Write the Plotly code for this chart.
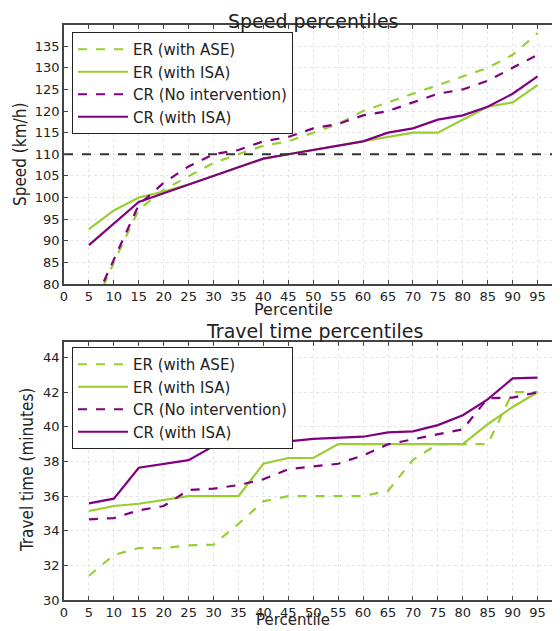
import plotly.graph_objects as go

percentiles = list(range(5, 100, 5))

speed_er_ase = [72, 85, 97.2, 101.8, 104.9, 108, 110, 112, 113, 115, 117, 120, 122, 124, 126, 128, 130, 133, 138]
speed_er_isa = [92.7, 97, 100, 101.4, 103, 105, 107, 109, 110, 111, 112, 113, 114, 115, 115, 118, 121, 122, 126]
speed_cr_none = [73, 85.6, 98.3, 103.4, 107.2, 110, 111, 113, 114, 116, 117, 119, 120, 122, 124, 125, 127, 130, 133]
speed_cr_isa = [89, 94, 99, 101, 103, 105, 107, 109, 110, 111, 112, 113, 115, 116, 118, 119, 121, 124, 128]

tt_er_ase = [31.4, 32.6, 33.0, 33.0, 33.15, 33.2, 34.4, 35.7, 36.0, 36.0, 36.0, 36.0, 36.3, 38.1, 39.0, 39.0, 39.0, 42.0, 42.0]
tt_er_isa = [35.14, 35.43, 35.56, 35.8, 36.0, 36.0, 36.0, 37.87, 38.2, 38.2, 39.0, 39.0, 39.0, 39.0, 39.0, 39.0, 40.15, 41.15, 42.0]
tt_cr_none = [34.66, 34.73, 35.18, 35.43, 36.35, 36.43, 36.64, 36.97, 37.55, 37.7, 37.87, 38.35, 38.99, 39.28, 39.57, 39.86, 41.65, 41.69, 42.0]
tt_cr_isa = [35.58, 35.85, 37.64, 37.87, 38.08, 38.89, 39.07, 39.09, 39.16, 39.3, 39.36, 39.43, 39.68, 39.74, 40.1, 40.67, 41.59, 42.8, 42.84]

speed_limit = 110
series_names = ["ER (with ASE)", "ER (with ISA)", "CR (No intervention)", "CR (with ISA)"]
x_ticks = list(range(0, 100, 5))
speed_ticks = list(range(80, 140, 5))
tt_ticks = list(range(30, 46, 2))

GREEN = "#9ACD32"
PURPLE = "#800080"
styles = [(GREEN, "dash"), (GREEN, "solid"), (PURPLE, "dash"), (PURPLE, "solid")]
FONT = "DejaVu Sans"
NARROW = "DejaVu Sans Condensed, DejaVu Sans"

# page has an 8px body margin; figure coords = reference px - 8
W, H = 552, 623
L = 56
PW = W - L

def px(x):
    return (x - 8 - L) / PW

def py(y):
    return 1 - (y - 8) / H

def yd(top, bottom):
    return [py(bottom), py(top)]

fig = go.Figure()

for i, (vals, (c, d)) in enumerate(zip([speed_er_ase, speed_er_isa, speed_cr_none, speed_cr_isa], styles)):
    fig.add_trace(go.Scatter(x=percentiles, y=vals, mode="lines", name=series_names[i],
                             line=dict(color=c, dash=d, width=2.2), xaxis="x", yaxis="y",
                             legend="legend"))
fig.add_trace(go.Scatter(x=[0, 100], y=[speed_limit, speed_limit], mode="lines",
                         line=dict(color="#333333", dash="dash", width=2), showlegend=False,
                         xaxis="x", yaxis="y"))
for i, (vals, (c, d)) in enumerate(zip([tt_er_ase, tt_er_isa, tt_cr_none, tt_cr_isa], styles)):
    fig.add_trace(go.Scatter(x=percentiles, y=vals, mode="lines", name=series_names[i],
                             line=dict(color=c, dash=d, width=2.2), xaxis="x2", yaxis="y2",
                             legend="legend2"))

axis_common = dict(showline=True, linecolor="#444444", linewidth=1.5, mirror="ticks",
                   ticks="inside", ticklen=4, tickcolor="#444444", automargin=False,
                   showgrid=True, gridcolor="#e4e4e4", griddash="dot", gridwidth=1,
                   zeroline=False, tickfont=dict(family=FONT, size=13, color="#222"))

legend_common = dict(xref="paper", yref="paper", xanchor="left", yanchor="top",
                     bgcolor="white", bordercolor="#222", borderwidth=1,
                     font=dict(family=FONT, size=15, color="#222"), tracegroupgap=0,
                     itemwidth=50)

fig.update_layout(
    template="none",
    width=W, height=H,
    margin=dict(l=L, r=0, t=0, b=0),
    plot_bgcolor="white", paper_bgcolor="white",
    font=dict(family=FONT, color="#222"),
    xaxis=dict(domain=[0, 1], range=[0, 99.5], tickvals=x_ticks, anchor="y", **axis_common),
    yaxis=dict(domain=yd(25, 284), range=[80, 139.9], tickvals=speed_ticks, anchor="x", **axis_common),
    xaxis2=dict(domain=[0, 1], range=[0, 99.5], tickvals=x_ticks, anchor="y2", **axis_common),
    yaxis2=dict(domain=yd(342, 600), range=[30, 44.9], tickvals=tt_ticks, anchor="x2", **axis_common),
    legend=dict(x=px(72), y=py(32), **legend_common),
    legend2=dict(x=px(72), y=py(347), **legend_common),
    showlegend=True,
)

annots = [
    ("Speed percentiles", 313, 8, 0, 19, FONT, "top"),
    ("Travel time percentiles", 314, 331, 0, 19, FONT, "middle"),
    ("Percentile", 293, 309, 0, 16, FONT, "middle"),
    ("Percentile", 293, 631, 0, 15, FONT, "bottom"),
    ("Speed (km/h)", 20, 155, -90, 17, NARROW, "middle"),
    ("Travel time (minutes)", 27, 470, -90, 17, NARROW, "middle"),
]
for text, x, y, ang, size, fam, ya in annots:
    fig.add_annotation(text=text, x=px(x), y=py(y), xref="paper", yref="paper",
                       xanchor="center", yanchor=ya, showarrow=False, textangle=ang,
                       font=dict(family=fam, size=size, color="#222"))

fig.write_html("out.html")
